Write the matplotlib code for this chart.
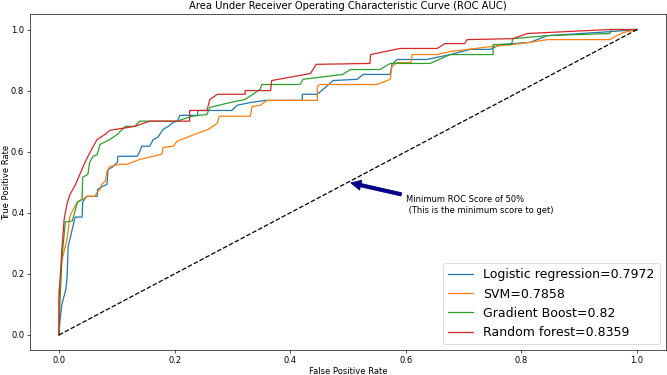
import matplotlib
matplotlib.use("Agg")
import matplotlib.pyplot as plt

## Donnees (fpr, tpr)

# Logistic regression
lr_fpr = [0.0, 0.002, 0.005, 0.012, 0.014, 0.016, 0.019, 0.023, 0.028, 0.04, 0.041, 0.048, 0.066, 0.067,
          0.076, 0.083, 0.085, 0.092, 0.101, 0.102, 0.135, 0.140, 0.143, 0.157, 0.163, 0.171, 0.180, 0.189,
          0.198, 0.205, 0.209, 0.240, 0.240, 0.299, 0.308, 0.331, 0.357, 0.421, 0.421, 0.447, 0.463, 0.474,
          0.516, 0.526, 0.573, 0.576, 0.585, 0.636, 0.677, 0.711, 0.746, 0.763, 0.815, 0.845, 0.953, 1.0]
lr_tpr = [0.0, 0.052, 0.10, 0.15, 0.19, 0.29, 0.314, 0.346, 0.386, 0.386, 0.435, 0.454, 0.454, 0.477,
          0.487, 0.493, 0.542, 0.549, 0.565, 0.585, 0.585, 0.601, 0.618, 0.618, 0.64, 0.647, 0.673, 0.683,
          0.696, 0.70, 0.719, 0.719, 0.735, 0.735, 0.752, 0.761, 0.768, 0.768, 0.788, 0.788, 0.814, 0.833,
          0.837, 0.853, 0.853, 0.886, 0.902, 0.902, 0.918, 0.935, 0.935, 0.951, 0.958, 0.98, 0.993, 1.0]

# SVM
svm_fpr = [0.0, 0.0, 0.005, 0.007, 0.014, 0.019, 0.025, 0.032, 0.041, 0.048, 0.062, 0.066, 0.071, 0.074,
           0.080, 0.083, 0.088, 0.106, 0.118, 0.140, 0.163, 0.178, 0.180, 0.198, 0.204, 0.235, 0.258, 0.274,
           0.277, 0.331, 0.334, 0.348, 0.360, 0.447, 0.447, 0.451, 0.550, 0.573, 0.576, 0.585, 0.609, 0.611,
           0.654, 0.677, 0.746, 0.785, 0.815, 0.845, 0.953, 0.965, 0.976, 1.0]
svm_tpr = [0.0, 0.14, 0.24, 0.258, 0.314, 0.389, 0.412, 0.435, 0.444, 0.454, 0.454, 0.467, 0.477, 0.493,
           0.503, 0.536, 0.552, 0.559, 0.559, 0.575, 0.585, 0.592, 0.614, 0.618, 0.634, 0.657, 0.673, 0.693,
           0.716, 0.716, 0.748, 0.752, 0.768, 0.768, 0.814, 0.82, 0.82, 0.837, 0.879, 0.892, 0.892, 0.918,
           0.918, 0.928, 0.944, 0.951, 0.958, 0.967, 0.967, 0.98, 0.99, 1.0]

# Gradient Boost
gb_fpr = [0.0, 0.002, 0.005, 0.011, 0.023, 0.032, 0.04, 0.041, 0.050, 0.053, 0.059, 0.066, 0.071, 0.088,
          0.101, 0.115, 0.131, 0.140, 0.204, 0.230, 0.256, 0.261, 0.296, 0.322, 0.348, 0.351, 0.417, 0.422,
          0.491, 0.504, 0.555, 0.573, 0.642, 0.677, 0.751, 0.751, 0.783, 0.785, 0.845, 0.953, 0.955, 1.0]
gb_tpr = [0.0, 0.118, 0.25, 0.37, 0.373, 0.435, 0.444, 0.516, 0.526, 0.565, 0.585, 0.59, 0.624, 0.64,
          0.657, 0.683, 0.683, 0.70, 0.70, 0.716, 0.722, 0.745, 0.761, 0.771, 0.804, 0.82, 0.82, 0.837,
          0.853, 0.869, 0.869, 0.889, 0.889, 0.918, 0.918, 0.951, 0.951, 0.97, 0.98, 0.987, 1.0, 1.0]

# Random forest
rf_fpr = [0.0, 0.0, 0.002, 0.005, 0.009, 0.014, 0.019, 0.028, 0.037, 0.045, 0.057, 0.066, 0.080, 0.088,
          0.131, 0.157, 0.226, 0.226, 0.256, 0.261, 0.274, 0.322, 0.322, 0.366, 0.368, 0.435, 0.445, 0.538,
          0.539, 0.590, 0.654, 0.668, 0.702, 0.706, 0.785, 0.810, 0.953, 1.0]
rf_tpr = [0.0, 0.118, 0.18, 0.28, 0.38, 0.43, 0.46, 0.49, 0.53, 0.565, 0.61, 0.64, 0.657, 0.67,
          0.683, 0.70, 0.70, 0.735, 0.735, 0.771, 0.788, 0.788, 0.80, 0.80, 0.833, 0.856, 0.886, 0.889,
          0.918, 0.938, 0.938, 0.954, 0.954, 0.967, 0.97, 0.987, 1.0, 1.0]

labels = ["Logistic regression=0.7972", "SVM=0.7858", "Gradient Boost=0.82", "Random forest=0.8359"]

## Figure
fig = plt.figure(figsize=(11.133, 6.25), dpi=60)
ax = fig.add_axes([0.045, 0.066, 0.952, 0.896])

ax.plot(lr_fpr, lr_tpr, label=labels[0])
ax.plot(svm_fpr, svm_tpr, label=labels[1])
ax.plot(gb_fpr, gb_tpr, label=labels[2])
ax.plot(rf_fpr, rf_tpr, label=labels[3])

# diagonale (classifieur aleatoire)
ax.plot([0, 1], [0, 1], "k--")

# fleche + texte
ax.annotate("Minimum ROC Score of 50% \n (This is the minimum score to get)",
            xy=(0.5, 0.5), xytext=(0.6, 0.4),
            arrowprops=dict(facecolor="darkblue", edgecolor="darkblue", shrink=0.05))

ax.set_title("Area Under Receiver Operating Characteristic Curve (ROC AUC)")
ax.set_xlabel("False Positive Rate", labelpad=2.5)
ax.set_ylabel("True Positive Rate", labelpad=0.5)
ax.legend(loc="lower right", fontsize=15)

fig.savefig("out.png", dpi=60)
